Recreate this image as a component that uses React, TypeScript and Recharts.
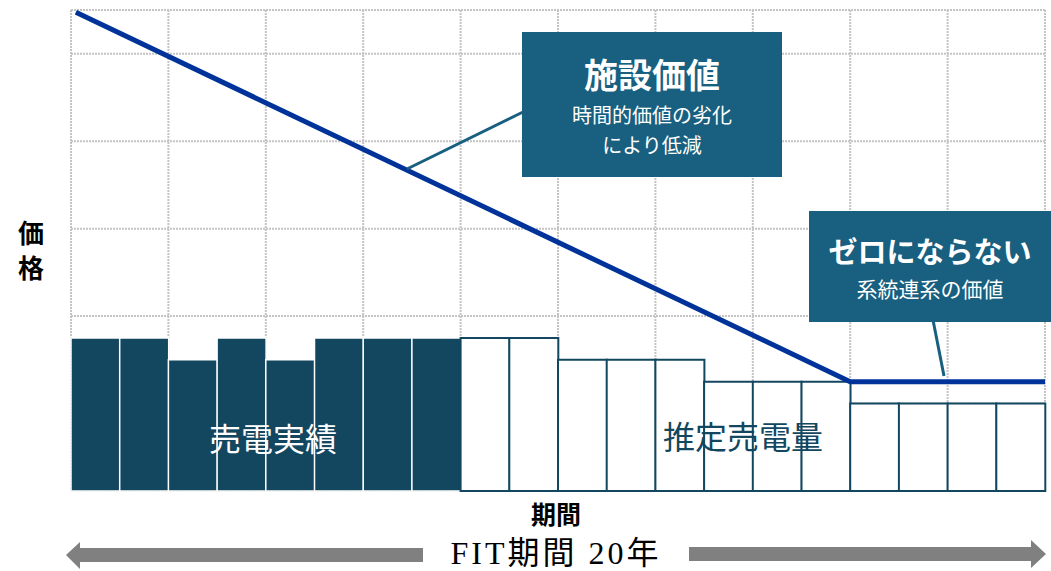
import React from "react";
import {
  ComposedChart,
  Bar,
  Line,
  XAxis,
  YAxis,
  CartesianGrid,
} from "recharts";

// 20 years of FIT, one bar per year
const years = [
  "1", "2", "3", "4", "5", "6", "7", "8", "9", "10",
  "11", "12", "13", "14", "15", "16", "17", "18", "19", "20",
];
// actual sales (first 8 years)
const actualSales = [35, 35, 30, 35, 30, 35, 35, 35];
// estimated sales (remaining 12 years)
const estimatedSales = [35, 35, 30, 30, 30, 25, 25, 25, 20, 20, 20, 20];

// facility value line: time position / value
const valueTimes = [0.1, 16, 20];
const valueLevels = [109.5, 25, 25];

const yTicks = [0, 20, 40, 60, 80, 100];
const xTicks = [0, 2, 4, 6, 8, 10, 12, 14, 16, 18, 20];

const DARK = "#12475f";
const BOX = "#185f80";
const LINE = "#003399";
const JP = "'Noto Sans CJK JP', 'Noto Sans', sans-serif";

const barData = years.map((year, i) => ({
  year,
  actual: i < actualSales.length ? actualSales[i] : null,
  estimate: i >= actualSales.length ? estimatedSales[i - actualSales.length] : null,
}));

const lineData = valueTimes.map((t, i) => ({ t, v: valueLevels[i] }));

const NoTick = () => <g />;

const abs = (left: number, top: number, extra: React.CSSProperties): React.CSSProperties => ({
  position: "absolute",
  left,
  top,
  ...extra,
});

export default function App() {
  return (
    <div
      style={{
        position: "absolute",
        left: 0,
        top: 0,
        width: 1051,
        height: 571,
        background: "#fff",
        fontFamily: JP,
      }}
    >
      <ComposedChart
        width={1051}
        height={571}
        data={barData}
        margin={{ top: 10, right: 6, left: 71, bottom: 80 }}
        barCategoryGap={0}
        barGap={0}
      >
        <CartesianGrid
          xAxisId="t"
          stroke="#c4c4c4"
          strokeWidth={2}
          strokeDasharray="2 1"
        />
        <Bar
          dataKey="actual"
          stackId="s"
          fill={DARK}
          stroke="#fff"
          strokeWidth={1.5}
          isAnimationActive={false}
        />
        <Bar
          dataKey="estimate"
          stackId="s"
          fill="#fff"
          stroke={DARK}
          strokeWidth={2}
          isAnimationActive={false}
        />
        <Line
          xAxisId="t"
          data={lineData}
          dataKey="v"
          type="linear"
          stroke={LINE}
          strokeWidth={5}
          dot={false}
          activeDot={false}
          isAnimationActive={false}
        />
        <XAxis
          dataKey="year"
          type="category"
          height={0}
          tick={NoTick}
          tickLine={false}
          axisLine={{ stroke: "#000", strokeWidth: 2 }}
        />
        <XAxis
          xAxisId="t"
          dataKey="t"
          type="number"
          domain={[0, 20]}
          ticks={xTicks}
          interval={0}
          height={0}
          tick={NoTick}
          tickLine={false}
          axisLine={false}
        />
        <YAxis
          type="number"
          domain={[0, 110]}
          ticks={yTicks}
          interval={0}
          width={0}
          tick={NoTick}
          tickLine={false}
          axisLine={{ stroke: "#000", strokeWidth: 2 }}
        />
      </ComposedChart>

      {/* connectors and period arrows */}
      <svg
        width={1051}
        height={571}
        style={{ position: "absolute", left: 0, top: 0, pointerEvents: "none" }}
      >
        <line x1={407} y1={169} x2={523} y2={112} stroke={BOX} strokeWidth={3} />
        <line x1={933} y1={320} x2={944} y2={376} stroke={BOX} strokeWidth={3} />
        <polygon
          points="66,555 80,542 80,548 423,548 423,562 80,562 80,569"
          fill="#808080"
        />
        <polygon
          points="1046,554 1031,540 1031,547 689,547 689,561 1031,561 1031,568"
          fill="#808080"
        />
      </svg>

      {/* callout: facility value */}
      <div
        style={abs(522, 32, {
          width: 260,
          height: 145,
          background: BOX,
          color: "#fff",
          textAlign: "center",
        })}
      >
        <div style={abs(0, 24, { width: 260, fontSize: 34, fontWeight: 700, lineHeight: "36px" })}>
          施設価値
        </div>
        <div style={abs(0, 70, { width: 260, fontSize: 20, lineHeight: "26px" })}>
          時間的価値の劣化
        </div>
        <div style={abs(0, 100, { width: 260, fontSize: 20, lineHeight: "26px" })}>
          により低減
        </div>
      </div>

      {/* callout: never zero */}
      <div
        style={abs(809, 211, {
          width: 242,
          height: 111,
          background: BOX,
          color: "#fff",
          textAlign: "center",
        })}
      >
        <div style={abs(0, 22, { width: 242, fontSize: 29, fontWeight: 700, lineHeight: "34px" })}>
          ゼロにならない
        </div>
        <div style={abs(0, 64, { width: 242, fontSize: 21, lineHeight: "26px" })}>
          系統連系の価値
        </div>
      </div>

      {/* bar group labels */}
      <div
        style={abs(173, 417, {
          width: 200,
          textAlign: "center",
          fontSize: 32,
          lineHeight: "40px",
          color: "#fff",
        })}
      >
        売電実績
      </div>
      <div
        style={abs(623, 415, {
          width: 240,
          textAlign: "center",
          fontSize: 32,
          lineHeight: "40px",
          color: DARK,
        })}
      >
        推定売電量
      </div>

      {/* axis titles */}
      <div
        style={abs(14, 217, {
          width: 34,
          textAlign: "center",
          fontSize: 26,
          fontWeight: 700,
          lineHeight: "30px",
          color: "#000",
        })}
      >
        価
      </div>
      <div
        style={abs(14, 252, {
          width: 34,
          textAlign: "center",
          fontSize: 26,
          fontWeight: 700,
          lineHeight: "30px",
          color: "#000",
        })}
      >
        格
      </div>
      <div
        style={abs(456, 497, {
          width: 200,
          textAlign: "center",
          fontSize: 25,
          fontWeight: 700,
          lineHeight: "32px",
          color: "#000",
        })}
      >
        期間
      </div>
      <div
        style={abs(421, 533, {
          width: 270,
          textAlign: "center",
          fontSize: 32,
          letterSpacing: 3,
          lineHeight: "40px",
          color: "#000",
          fontFamily: "'Liberation Serif', 'Noto Sans CJK JP', serif",
        })}
      >
        FIT期間 20年
      </div>
    </div>
  );
}
